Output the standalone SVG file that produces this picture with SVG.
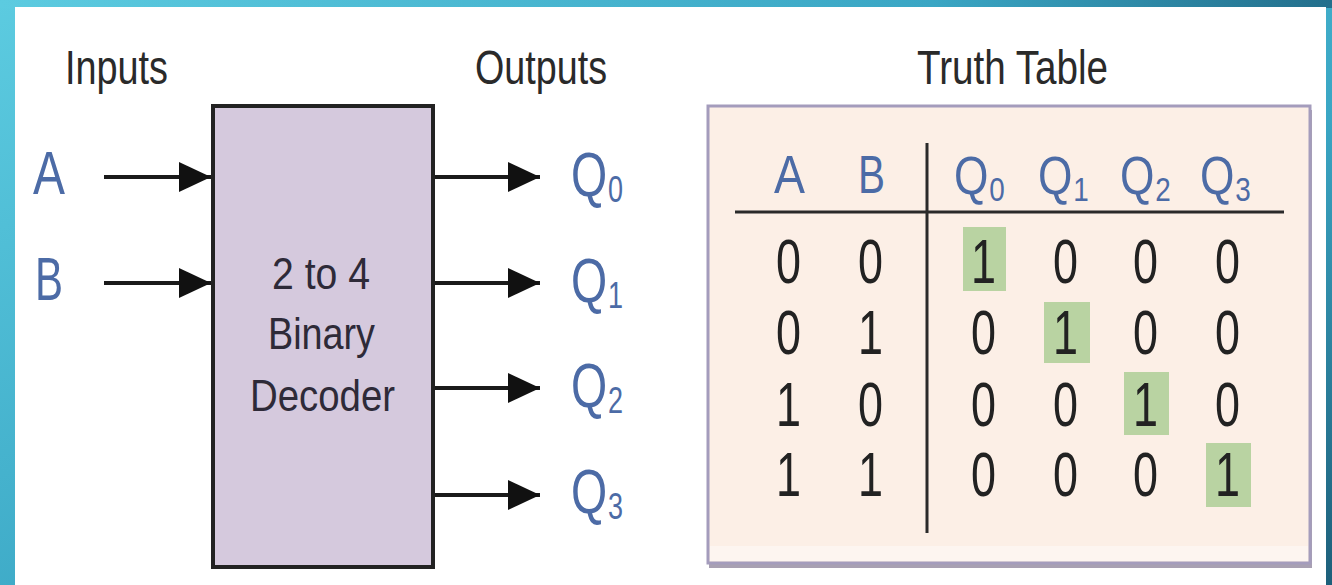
<svg xmlns="http://www.w3.org/2000/svg" width="1332" height="585" viewBox="0 0 1332 585">
<defs>
<linearGradient id="bg" x1="0" y1="0" x2="1" y2="1">
<stop offset="0" stop-color="#5ccbe0"/>
<stop offset="0.6" stop-color="#3aa6c4"/>
<stop offset="1" stop-color="#1d5f7a"/>
</linearGradient>
<linearGradient id="topbar" x1="0" y1="0" x2="1" y2="0">
<stop offset="0" stop-color="#5ccbe0"/>
<stop offset="0.7" stop-color="#3aa6c4"/>
<stop offset="1" stop-color="#236f8c"/>
</linearGradient>
<marker id="arr" viewBox="0 0 32 30" refX="32" refY="15" markerWidth="32" markerHeight="30" markerUnits="userSpaceOnUse" orient="auto">
<path d="M0,0 L32,15 L0,30 Z" fill="#111"/>
</marker>
</defs>
<style>
text{font-family:"Liberation Sans",Arial,sans-serif;}
.lbl{font-size:48px;fill:#2a2a2a;}
.io{font-size:62px;fill:#4c6ba6;}
.io tspan{font-size:36px;}
.hd{font-size:54px;fill:#4c6ba6;}
.hd tspan{font-size:34px;}
.box{font-size:44px;fill:#2e2a38;}
.dg{font-size:63px;fill:#222;}
.conn line{stroke:#1a1a1a;stroke-width:4;marker-end:url(#arr);}
.hl{fill:#b9d3a2;}
</style>
<rect x="0" y="0" width="1332" height="585" fill="url(#bg)"/>
<rect x="0" y="0" width="1332" height="8" fill="url(#topbar)"/>
<rect x="15" y="7" width="1311" height="578" fill="#ffffff"/>

<g id="labels">
<text class="lbl" x="65" y="84" textLength="103" lengthAdjust="spacingAndGlyphs">Inputs</text>
<text class="lbl" x="475" y="84" textLength="132" lengthAdjust="spacingAndGlyphs">Outputs</text>
<text class="lbl" x="917" y="84" textLength="191" lengthAdjust="spacingAndGlyphs">Truth Table</text>
</g>

<g id="input-A"><text class="io" x="33" y="194" textLength="32" lengthAdjust="spacingAndGlyphs">A</text></g>
<g id="input-B"><text class="io" x="35" y="300" textLength="28" lengthAdjust="spacingAndGlyphs">B</text></g>

<g id="decoder">
<rect x="213" y="106" width="220" height="461" fill="#d5c9dd" stroke="#222" stroke-width="4"/>
<text class="box" x="272" y="289" textLength="98" lengthAdjust="spacingAndGlyphs">2 to 4</text>
<text class="box" x="268" y="349" textLength="107" lengthAdjust="spacingAndGlyphs">Binary</text>
<text class="box" x="250" y="411" textLength="145" lengthAdjust="spacingAndGlyphs">Decoder</text>
</g>

<g id="output-Q0"><text class="io" transform="translate(571,196) scale(0.75,1)">Q<tspan dx="1" dy="6">0</tspan></text></g>
<g id="output-Q1"><text class="io" transform="translate(571,302) scale(0.75,1)">Q<tspan dx="1" dy="6">1</tspan></text></g>
<g id="output-Q2"><text class="io" transform="translate(571,407) scale(0.75,1)">Q<tspan dx="1" dy="6">2</tspan></text></g>
<g id="output-Q3"><text class="io" transform="translate(571,513) scale(0.75,1)">Q<tspan dx="1" dy="6">3</tspan></text></g>

<g id="connectors" class="conn">
<line x1="104" y1="177" x2="211" y2="177"/>
<line x1="104" y1="283" x2="211" y2="283"/>
<line x1="435" y1="177" x2="540" y2="177"/>
<line x1="435" y1="283" x2="540" y2="283"/>
<line x1="435" y1="388" x2="540" y2="388"/>
<line x1="435" y1="495" x2="540" y2="495"/>
</g>

<g id="truth-table">
<rect x="709" y="110" width="603" height="458" fill="#a8a0b2"/>
<rect x="708" y="106" width="602" height="457" fill="#fcefe6" stroke="#a49cbc" stroke-width="3"/>
<rect x="710" y="546" width="598" height="15" fill="#fdf5f0"/>
<rect class="hl" x="963" y="227" width="43" height="64"/>
<rect class="hl" x="1044" y="302" width="46" height="61"/>
<rect class="hl" x="1124" y="372" width="45" height="63"/>
<rect class="hl" x="1206" y="443" width="45" height="64"/>
<line x1="735" y1="212" x2="1284" y2="212" stroke="#2a2a2a" stroke-width="3"/>
<line x1="927" y1="143" x2="927" y2="533" stroke="#2a2a2a" stroke-width="3"/>
<text class="hd" x="774" y="193" textLength="31" lengthAdjust="spacingAndGlyphs">A</text>
<text class="hd" x="858" y="193" textLength="27" lengthAdjust="spacingAndGlyphs">B</text>
<text class="hd" transform="translate(954,194) scale(0.82,1)">Q<tspan dx="1" dy="7">0</tspan></text>
<text class="hd" transform="translate(1038,194) scale(0.82,1)">Q<tspan dx="1" dy="7">1</tspan></text>
<text class="hd" transform="translate(1120,194) scale(0.82,1)">Q<tspan dx="1" dy="7">2</tspan></text>
<text class="hd" transform="translate(1200,194) scale(0.82,1)">Q<tspan dx="1" dy="7">3</tspan></text>
<g class="dg">
<text x="776" y="283" textLength="25" lengthAdjust="spacingAndGlyphs">0</text>
<text x="858" y="283" textLength="25" lengthAdjust="spacingAndGlyphs">0</text>
<text x="971" y="283" textLength="25" lengthAdjust="spacingAndGlyphs">1</text>
<text x="1053" y="283" textLength="25" lengthAdjust="spacingAndGlyphs">0</text>
<text x="1133" y="283" textLength="25" lengthAdjust="spacingAndGlyphs">0</text>
<text x="1215" y="283" textLength="25" lengthAdjust="spacingAndGlyphs">0</text>

<text x="776" y="354" textLength="25" lengthAdjust="spacingAndGlyphs">0</text>
<text x="858" y="354" textLength="25" lengthAdjust="spacingAndGlyphs">1</text>
<text x="971" y="354" textLength="25" lengthAdjust="spacingAndGlyphs">0</text>
<text x="1053" y="354" textLength="25" lengthAdjust="spacingAndGlyphs">1</text>
<text x="1133" y="354" textLength="25" lengthAdjust="spacingAndGlyphs">0</text>
<text x="1215" y="354" textLength="25" lengthAdjust="spacingAndGlyphs">0</text>

<text x="776" y="426" textLength="25" lengthAdjust="spacingAndGlyphs">1</text>
<text x="858" y="426" textLength="25" lengthAdjust="spacingAndGlyphs">0</text>
<text x="971" y="426" textLength="25" lengthAdjust="spacingAndGlyphs">0</text>
<text x="1053" y="426" textLength="25" lengthAdjust="spacingAndGlyphs">0</text>
<text x="1133" y="426" textLength="25" lengthAdjust="spacingAndGlyphs">1</text>
<text x="1215" y="426" textLength="25" lengthAdjust="spacingAndGlyphs">0</text>

<text x="776" y="496" textLength="25" lengthAdjust="spacingAndGlyphs">1</text>
<text x="858" y="496" textLength="25" lengthAdjust="spacingAndGlyphs">1</text>
<text x="971" y="496" textLength="25" lengthAdjust="spacingAndGlyphs">0</text>
<text x="1053" y="496" textLength="25" lengthAdjust="spacingAndGlyphs">0</text>
<text x="1133" y="496" textLength="25" lengthAdjust="spacingAndGlyphs">0</text>
<text x="1215" y="496" textLength="25" lengthAdjust="spacingAndGlyphs">1</text>
</g>
</g>
</svg>
